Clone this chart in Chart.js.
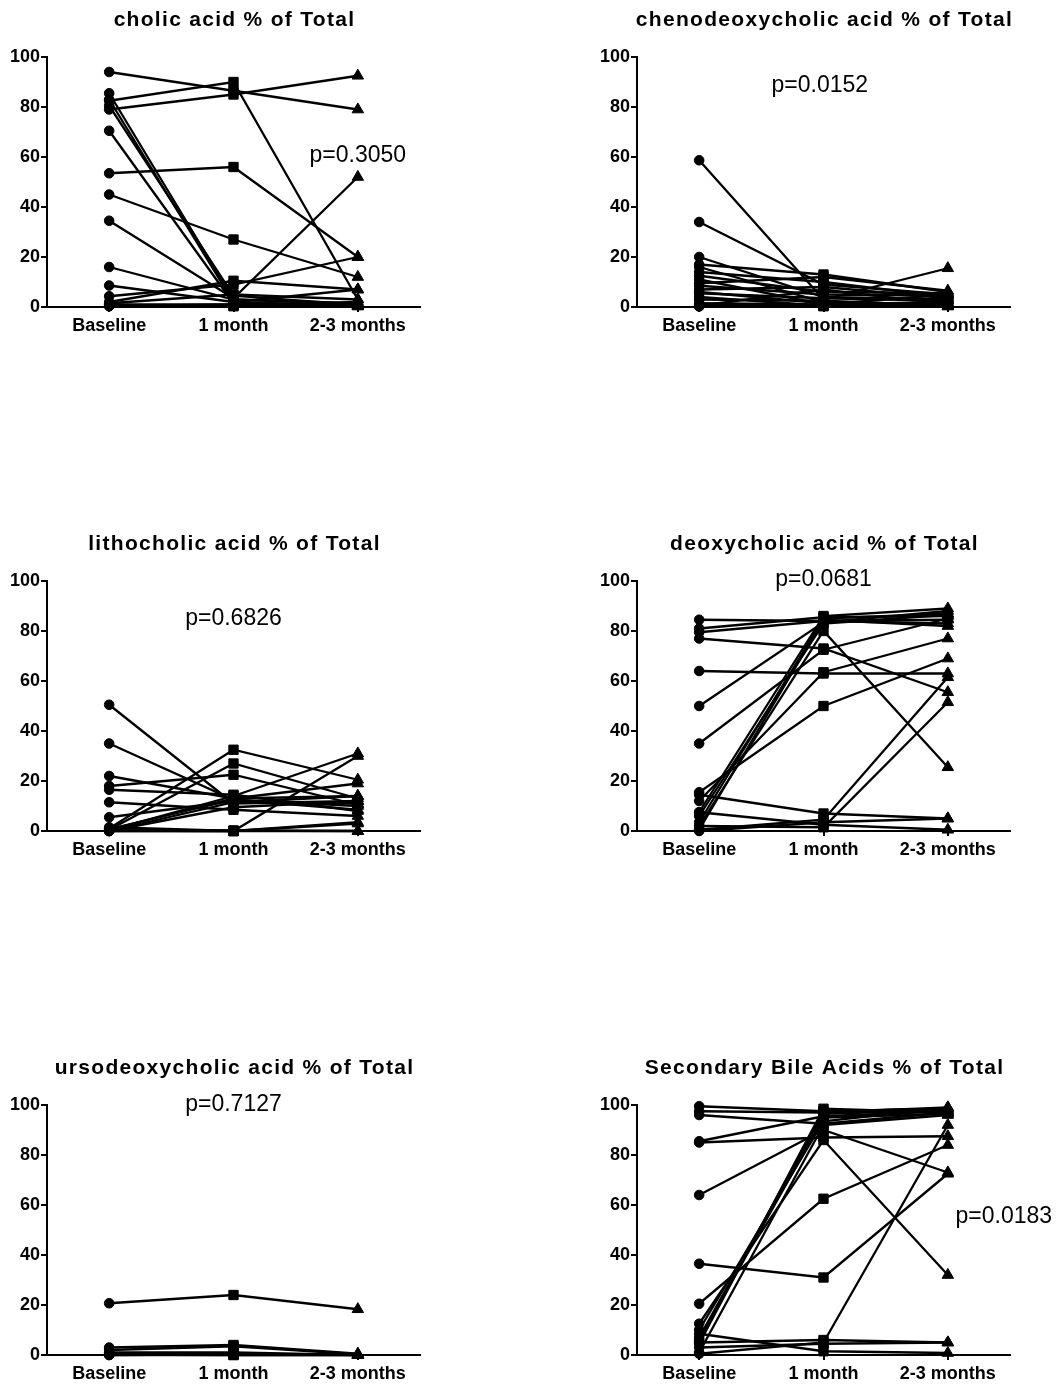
<!DOCTYPE html>
<html>
<head>
<meta charset="utf-8">
<script src="https://cdn.jsdelivr.net/npm/chart.js@4.4.0/dist/chart.umd.min.js"></script>
<style>
    body { margin: 0; background: #fff; }
    #page { position: relative; width: 1062px; height: 1386px; overflow: hidden; background: #fff; }
    .panel { position: absolute; width: 472px; height: 338px; }
    .panel canvas { width: 472px; height: 338px; }
</style>
</head>
<body>
<div id="page">
    <div class="panel" style="left:0;top:0"><canvas id="cholic" width="472" height="338"></canvas></div>
    <div class="panel" style="left:590px;top:0"><canvas id="cheno" width="472" height="338"></canvas></div>
    <div class="panel" style="left:0;top:524px"><canvas id="litho" width="472" height="338"></canvas></div>
    <div class="panel" style="left:590px;top:524px"><canvas id="deoxy" width="472" height="338"></canvas></div>
    <div class="panel" style="left:0;top:1048px"><canvas id="urso" width="472" height="338"></canvas></div>
    <div class="panel" style="left:590px;top:1048px"><canvas id="secondary" width="472" height="338"></canvas></div>
</div>
<script>
const timepoints = ['Baseline', '1 month', '2-3 months'];
const yMin = 0;
const yMax = 100;
const yStep = 20;

// one entry per subject, same order in the three arrays of a panel
const cholicBaseline = [94, 82.5, 79, 85.5, 83, 80.5, 70.5, 53.5, 45, 34.5, 16, 8.6, 4.3, 2, 1, 0.5, 0.3, 1.5, 0.8];
const cholicMonth1   = [86.5, 90, 85, 3, 2, 4.5, 1.5, 56, 27, 3.5, 3, 2, 9, 10.5, 1, 0.5, 1, 5, 0.3];
const cholicMonth23  = [79, 3, 92.5, 1, 0.5, 0.8, 0.3, 20, 12, 52, 1.5, 7, 20, 7, 0.5, 2, 0.2, 3, 0.5];

const chenoBaseline = [58.7, 34, 20, 17, 16, 14, 12.5, 11, 9.5, 8.5, 7, 6, 5.5, 4, 3, 1.5, 1, 0.5, 0.2];
const chenoMonth1   = [3, 9, 4, 13, 2, 10, 6, 1, 12, 5, 8, 1.5, 3.5, 0.5, 2.5, 1, 0.3, 7, 0.5];
const chenoMonth23  = [15.5, 5, 3, 6, 1, 4, 5.5, 2, 6.5, 4.5, 3.5, 1, 2.5, 1.5, 0.5, 5, 0.3, 1, 0.2];

const lithoBaseline = [50.5, 35, 22, 18, 16.5, 11.5, 5.5, 1, 0.5, 0.3, 0.2, 1.5, 0.5, 0, 0, 0, 0.2, 0.8, 0];
const lithoMonth1   = [11, 12.5, 13, 22.5, 14.5, 8.5, 12, 32.5, 27, 14, 0, 0, 13, 9.5, 0, 11.5, 0.2, 12.5, 0];
const lithoMonth23  = [12, 10, 14, 10.5, 8, 6, 11, 20.5, 13, 31, 30, 3.5, 19, 12, 0, 14, 0, 8.5, 3];

const deoxyBaseline = [84.5, 81, 79.5, 77, 64, 50, 35, 15.5, 14.5, 12, 7.5, 3.5, 2, 0.5, 7.5, 0.5, 2, 0, 6];
const deoxyMonth1   = [84, 85.5, 84, 73, 63, 83.5, 72.5, 50, 7, 63.5, 86, 85, 80, 84.5, 2.5, 4.5, 1.5, 3.5, 83];
const deoxyMonth23  = [83, 86, 84.5, 55.5, 63, 88, 85, 69, 5, 77, 89, 87, 25.5, 82, 0.5, 61.5, 51.5, 5, 86.5];

const ursoBaseline = [20.7, 3, 2, 0.5, 0, 0.2, 0, 1];
const ursoMonth1   = [24, 4, 3.5, 0.5, 0, 0, 0.3, 1];
const ursoMonth23  = [18.3, 0.5, 0.3, 0, 0, 0, 0.2, 0];

const secondaryBaseline = [99.5, 97.5, 96, 85.5, 85, 64, 36.5, 12.5, 20.5, 8.5, 5, 0.5, 4.5, 7, 6, 10, 3, 5.5, 1];
const secondaryMonth1   = [97.5, 97, 92.5, 95.5, 87, 90, 31, 86, 62.5, 1.5, 6, 5, 98.5, 96.5, 95, 93.5, 4.5, 97.5, 92];
const secondaryMonth23  = [98.5, 99, 97, 97.5, 87.5, 73, 72.5, 32, 84, 0.8, 5, 92, 97, 98, 96.5, 99, 5, 98.5, 96];

const fontFamily = '"Liberation Sans", Arial, Helvetica, sans-serif';

Chart.defaults.font.family = fontFamily;
Chart.defaults.color = '#000';
Chart.defaults.animation = false;

// panel title above the plot and the p value inside it
const panelText = {
    id: 'panelText',
    afterDraw(chart, args, opts) {
        const { ctx, chartArea, scales } = chart;
        ctx.save();
        ctx.fillStyle = '#000';
        ctx.textAlign = 'center';
        ctx.textBaseline = 'alphabetic';
        ctx.font = 'bold 21px ' + fontFamily;
        if ('letterSpacing' in ctx) ctx.letterSpacing = '1.3px';
        ctx.fillText(opts.title, (chartArea.left + chartArea.right) / 2 + 1, 26);
        if ('letterSpacing' in ctx) ctx.letterSpacing = '0px';
        ctx.font = '23px ' + fontFamily;
        ctx.fillText(opts.pText,
            scales.x.getPixelForValue(opts.pAt[0]),
            scales.y.getPixelForValue(opts.pAt[1]));
        ctx.restore();
    }
};
Chart.register(panelText);

const charts = {};

function makeGraph({ id, title, pText, pAt, baseline, month1, month23 }) {
    const ctx = document.getElementById(id);

    if (charts[id]) {
        charts[id].destroy();
    }

    const datasets = baseline.map((b, i) => ({
        data: [b, month1[i], month23[i]],
        borderColor: '#000',
        backgroundColor: '#000',
        borderWidth: 2.3,
        pointStyle: ['circle', 'rect', 'triangle'],
        pointRadius: [4.8, 6.6, 6.6],
        pointBorderWidth: 1,
        pointBorderColor: '#000',
        pointBackgroundColor: '#000',
        clip: false,
        tension: 0
    }));

    charts[id] = new Chart(ctx, {
        type: 'line',
        data: {
            labels: timepoints,
            datasets: datasets
        },
        options: {
            responsive: false,
            devicePixelRatio: 1,
            layout: {
                padding: { top: 57, right: 52, left: 0, bottom: 0 }
            },
            plugins: {
                legend: { display: false },
                tooltip: { enabled: false },
                title: { display: false },
                panelText: { title: title, pText: pText, pAt: pAt }
            },
            scales: {
                x: {
                    type: 'category',
                    offset: true,
                    afterFit: (scale) => { scale.height = 31; },
                    grid: {
                        drawOnChartArea: false,
                        drawTicks: true,
                        tickLength: 5,
                        color: '#000',
                        lineWidth: 2,
                        offset: false
                    },
                    border: { display: true, color: '#000', width: 2 },
                    ticks: {
                        padding: 3,
                        maxRotation: 0,
                        autoSkip: false,
                        color: '#000',
                        font: { size: 18, weight: 'bold' }
                    }
                },
                y: {
                    type: 'linear',
                    min: yMin,
                    max: yMax,
                    afterFit: (scale) => { scale.width = 47; },
                    grid: {
                        drawOnChartArea: false,
                        drawTicks: true,
                        tickLength: 6,
                        color: '#000',
                        lineWidth: 2
                    },
                    border: { display: true, color: '#000', width: 2 },
                    ticks: {
                        stepSize: yStep,
                        padding: 1,
                        color: '#000',
                        font: { size: 18, weight: 'bold' }
                    }
                }
            }
        }
    });
}

const panels = [
    { id: 'cholic', title: 'cholic acid % of Total', pText: 'p=0.3050', pAt: [2.0, 58],
      baseline: cholicBaseline, month1: cholicMonth1, month23: cholicMonth23 },
    { id: 'cheno', title: 'chenodeoxycholic acid % of Total', pText: 'p=0.0152', pAt: [0.97, 86],
      baseline: chenoBaseline, month1: chenoMonth1, month23: chenoMonth23 },
    { id: 'litho', title: 'lithocholic acid % of Total', pText: 'p=0.6826', pAt: [1.0, 82.5],
      baseline: lithoBaseline, month1: lithoMonth1, month23: lithoMonth23 },
    { id: 'deoxy', title: 'deoxycholic acid % of Total', pText: 'p=0.0681', pAt: [1.0, 98],
      baseline: deoxyBaseline, month1: deoxyMonth1, month23: deoxyMonth23 },
    { id: 'urso', title: 'ursodeoxycholic acid % of Total', pText: 'p=0.7127', pAt: [1.0, 97.6],
      baseline: ursoBaseline, month1: ursoMonth1, month23: ursoMonth23 },
    { id: 'secondary', title: 'Secondary Bile Acids % of Total', pText: 'p=0.0183', pAt: [2.45, 53],
      baseline: secondaryBaseline, month1: secondaryMonth1, month23: secondaryMonth23 }
];

panels.forEach(makeGraph);
</script>
</body>
</html>
